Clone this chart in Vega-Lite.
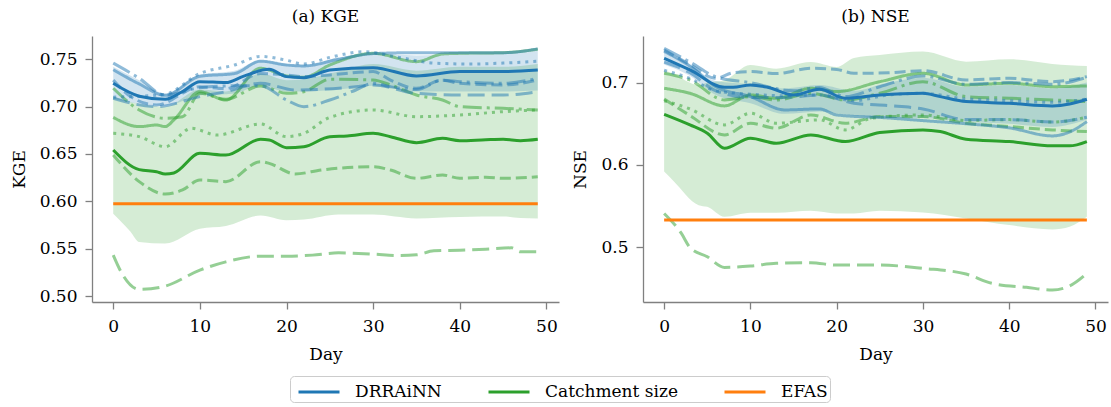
{
"$schema":"https://vega.github.io/schema/vega-lite/v6.json",
"padding":{"left":10,"top":8,"right":2,"bottom":2},
"background":"white",
"datasets":{"d":[
{"p":"a","k":"m","f":"DRRAiNN","d":0,"v":0.7246},{"p":"a","k":"m","f":"DRRAiNN","d":3,"v":0.711},{"p":"a","k":"m","f":"DRRAiNN","d":6,"v":0.7077},{"p":"a","k":"m","f":"DRRAiNN","d":8,"v":0.716},{"p":"a","k":"m","f":"DRRAiNN","d":10,"v":0.7264},{"p":"a","k":"m","f":"DRRAiNN","d":13,"v":0.7254},{"p":"a","k":"m","f":"DRRAiNN","d":15,"v":0.732},{"p":"a","k":"m","f":"DRRAiNN","d":18,"v":0.7394},{"p":"a","k":"m","f":"DRRAiNN","d":20,"v":0.7317},{"p":"a","k":"m","f":"DRRAiNN","d":22,"v":0.7306},{"p":"a","k":"m","f":"DRRAiNN","d":25,"v":0.7387},{"p":"a","k":"m","f":"DRRAiNN","d":30,"v":0.7412},{"p":"a","k":"m","f":"DRRAiNN","d":35,"v":0.7324},{"p":"a","k":"m","f":"DRRAiNN","d":40,"v":0.737},{"p":"a","k":"m","f":"DRRAiNN","d":45,"v":0.737},{"p":"a","k":"m","f":"DRRAiNN","d":49,"v":0.7387},
{"p":"a","k":"m","f":"Catchment size","d":0,"v":0.6542},{"p":"a","k":"m","f":"Catchment size","d":3,"v":0.6335},{"p":"a","k":"m","f":"Catchment size","d":5,"v":0.6313},{"p":"a","k":"m","f":"Catchment size","d":6,"v":0.6289},{"p":"a","k":"m","f":"Catchment size","d":7,"v":0.630},{"p":"a","k":"m","f":"Catchment size","d":10,"v":0.6507},{"p":"a","k":"m","f":"Catchment size","d":13,"v":0.6489},{"p":"a","k":"m","f":"Catchment size","d":17,"v":0.6655},{"p":"a","k":"m","f":"Catchment size","d":18,"v":0.6648},{"p":"a","k":"m","f":"Catchment size","d":20,"v":0.6567},{"p":"a","k":"m","f":"Catchment size","d":22,"v":0.6577},{"p":"a","k":"m","f":"Catchment size","d":25,"v":0.6683},{"p":"a","k":"m","f":"Catchment size","d":27,"v":0.669},{"p":"a","k":"m","f":"Catchment size","d":30,"v":0.6718},{"p":"a","k":"m","f":"Catchment size","d":32,"v":0.6683},{"p":"a","k":"m","f":"Catchment size","d":35,"v":0.662},{"p":"a","k":"m","f":"Catchment size","d":38,"v":0.6665},{"p":"a","k":"m","f":"Catchment size","d":40,"v":0.664},{"p":"a","k":"m","f":"Catchment size","d":43,"v":0.665},{"p":"a","k":"m","f":"Catchment size","d":45,"v":0.6655},{"p":"a","k":"m","f":"Catchment size","d":47,"v":0.664},{"p":"a","k":"m","f":"Catchment size","d":49,"v":0.6655},
{"p":"a","k":"m","f":"EFAS","d":0,"v":0.5975},{"p":"a","k":"m","f":"EFAS","d":49,"v":0.5975},
{"p":"a","k":"b","f":"Catchment size","d":0,"v":0.587,"hi":0.711},{"p":"a","k":"b","f":"Catchment size","d":2,"v":0.568,"hi":0.705},{"p":"a","k":"b","f":"Catchment size","d":3,"v":0.557,"hi":0.703},{"p":"a","k":"b","f":"Catchment size","d":6,"v":0.5554,"hi":0.700},{"p":"a","k":"b","f":"Catchment size","d":10,"v":0.571,"hi":0.718},{"p":"a","k":"b","f":"Catchment size","d":13,"v":0.574,"hi":0.716},{"p":"a","k":"b","f":"Catchment size","d":17,"v":0.585,"hi":0.735},{"p":"a","k":"b","f":"Catchment size","d":20,"v":0.580,"hi":0.728},{"p":"a","k":"b","f":"Catchment size","d":22,"v":0.5807,"hi":0.729},{"p":"a","k":"b","f":"Catchment size","d":26,"v":0.586,"hi":0.737},{"p":"a","k":"b","f":"Catchment size","d":30,"v":0.586,"hi":0.745},{"p":"a","k":"b","f":"Catchment size","d":35,"v":0.582,"hi":0.738},{"p":"a","k":"b","f":"Catchment size","d":40,"v":0.5835,"hi":0.742},{"p":"a","k":"b","f":"Catchment size","d":45,"v":0.584,"hi":0.742},{"p":"a","k":"b","f":"Catchment size","d":47,"v":0.5825,"hi":0.743},{"p":"a","k":"b","f":"Catchment size","d":49,"v":0.582,"hi":0.745},
{"p":"a","k":"b","f":"DRRAiNN","d":0,"v":0.708,"hi":0.742},{"p":"a","k":"b","f":"DRRAiNN","d":3,"v":0.703,"hi":0.728},{"p":"a","k":"b","f":"DRRAiNN","d":6,"v":0.701,"hi":0.714},{"p":"a","k":"b","f":"DRRAiNN","d":10,"v":0.712,"hi":0.734},{"p":"a","k":"b","f":"DRRAiNN","d":14,"v":0.714,"hi":0.738},{"p":"a","k":"b","f":"DRRAiNN","d":17,"v":0.722,"hi":0.749},{"p":"a","k":"b","f":"DRRAiNN","d":20,"v":0.716,"hi":0.745},{"p":"a","k":"b","f":"DRRAiNN","d":22,"v":0.716,"hi":0.744},{"p":"a","k":"b","f":"DRRAiNN","d":26,"v":0.718,"hi":0.752},{"p":"a","k":"b","f":"DRRAiNN","d":30,"v":0.722,"hi":0.756},{"p":"a","k":"b","f":"DRRAiNN","d":35,"v":0.716,"hi":0.754},{"p":"a","k":"b","f":"DRRAiNN","d":40,"v":0.716,"hi":0.755},{"p":"a","k":"b","f":"DRRAiNN","d":45,"v":0.716,"hi":0.756},{"p":"a","k":"b","f":"DRRAiNN","d":49,"v":0.717,"hi":0.759},
{"p":"a","k":"v","f":"Catchment size","s":"solid","d":0,"v":0.6887},{"p":"a","k":"v","f":"Catchment size","s":"solid","d":3,"v":0.6789},{"p":"a","k":"v","f":"Catchment size","s":"solid","d":5,"v":0.6806},{"p":"a","k":"v","f":"Catchment size","s":"solid","d":6,"v":0.6789},{"p":"a","k":"v","f":"Catchment size","s":"solid","d":7,"v":0.686},{"p":"a","k":"v","f":"Catchment size","s":"solid","d":10,"v":0.7158},{"p":"a","k":"v","f":"Catchment size","s":"solid","d":13,"v":0.707},{"p":"a","k":"v","f":"Catchment size","s":"solid","d":17,"v":0.7405},{"p":"a","k":"v","f":"Catchment size","s":"solid","d":20,"v":0.7324},{"p":"a","k":"v","f":"Catchment size","s":"solid","d":22,"v":0.731},{"p":"a","k":"v","f":"Catchment size","s":"solid","d":25,"v":0.744},{"p":"a","k":"v","f":"Catchment size","s":"solid","d":30,"v":0.7563},{"p":"a","k":"v","f":"Catchment size","s":"solid","d":35,"v":0.7475},{"p":"a","k":"v","f":"Catchment size","s":"solid","d":38,"v":0.7556},{"p":"a","k":"v","f":"Catchment size","s":"solid","d":40,"v":0.7563},{"p":"a","k":"v","f":"Catchment size","s":"solid","d":45,"v":0.757},{"p":"a","k":"v","f":"Catchment size","s":"solid","d":49,"v":0.7606},
{"p":"a","k":"v","f":"Catchment size","s":"dashed","d":0,"v":0.649},{"p":"a","k":"v","f":"Catchment size","s":"dashed","d":3,"v":0.6208},{"p":"a","k":"v","f":"Catchment size","s":"dashed","d":6,"v":0.6077},{"p":"a","k":"v","f":"Catchment size","s":"dashed","d":8,"v":0.612},{"p":"a","k":"v","f":"Catchment size","s":"dashed","d":10,"v":0.6225},{"p":"a","k":"v","f":"Catchment size","s":"dashed","d":13,"v":0.6208},{"p":"a","k":"v","f":"Catchment size","s":"dashed","d":17,"v":0.6419},{"p":"a","k":"v","f":"Catchment size","s":"dashed","d":18,"v":0.6401},{"p":"a","k":"v","f":"Catchment size","s":"dashed","d":21,"v":0.6289},{"p":"a","k":"v","f":"Catchment size","s":"dashed","d":24,"v":0.6331},{"p":"a","k":"v","f":"Catchment size","s":"dashed","d":30,"v":0.6366},{"p":"a","k":"v","f":"Catchment size","s":"dashed","d":32,"v":0.6331},{"p":"a","k":"v","f":"Catchment size","s":"dashed","d":35,"v":0.6243},{"p":"a","k":"v","f":"Catchment size","s":"dashed","d":38,"v":0.6278},{"p":"a","k":"v","f":"Catchment size","s":"dashed","d":40,"v":0.6243},{"p":"a","k":"v","f":"Catchment size","s":"dashed","d":43,"v":0.6254},{"p":"a","k":"v","f":"Catchment size","s":"dashed","d":45,"v":0.6243},{"p":"a","k":"v","f":"Catchment size","s":"dashed","d":49,"v":0.626},
{"p":"a","k":"v","f":"Catchment size","s":"dashdot","d":0,"v":0.7194},{"p":"a","k":"v","f":"Catchment size","s":"dashdot","d":3,"v":0.6965},{"p":"a","k":"v","f":"Catchment size","s":"dashdot","d":6,"v":0.6877},{"p":"a","k":"v","f":"Catchment size","s":"dashdot","d":8,"v":0.6894},{"p":"a","k":"v","f":"Catchment size","s":"dashdot","d":10,"v":0.7141},{"p":"a","k":"v","f":"Catchment size","s":"dashdot","d":13,"v":0.7077},{"p":"a","k":"v","f":"Catchment size","s":"dashdot","d":17,"v":0.7218},{"p":"a","k":"v","f":"Catchment size","s":"dashdot","d":20,"v":0.7141},{"p":"a","k":"v","f":"Catchment size","s":"dashdot","d":22,"v":0.7158},{"p":"a","k":"v","f":"Catchment size","s":"dashdot","d":25,"v":0.7289},{"p":"a","k":"v","f":"Catchment size","s":"dashdot","d":30,"v":0.7282},{"p":"a","k":"v","f":"Catchment size","s":"dashdot","d":32,"v":0.7229},{"p":"a","k":"v","f":"Catchment size","s":"dashdot","d":35,"v":0.7123},{"p":"a","k":"v","f":"Catchment size","s":"dashdot","d":38,"v":0.707},{"p":"a","k":"v","f":"Catchment size","s":"dashdot","d":40,"v":0.700},{"p":"a","k":"v","f":"Catchment size","s":"dashdot","d":45,"v":0.6982},{"p":"a","k":"v","f":"Catchment size","s":"dashdot","d":49,"v":0.6965},
{"p":"a","k":"v","f":"Catchment size","s":"dotted","d":0,"v":0.6718},{"p":"a","k":"v","f":"Catchment size","s":"dotted","d":3,"v":0.6683},{"p":"a","k":"v","f":"Catchment size","s":"dotted","d":6,"v":0.6577},{"p":"a","k":"v","f":"Catchment size","s":"dotted","d":9,"v":0.6771},{"p":"a","k":"v","f":"Catchment size","s":"dotted","d":12,"v":0.670},{"p":"a","k":"v","f":"Catchment size","s":"dotted","d":17,"v":0.6817},{"p":"a","k":"v","f":"Catchment size","s":"dotted","d":20,"v":0.6683},{"p":"a","k":"v","f":"Catchment size","s":"dotted","d":22,"v":0.6718},{"p":"a","k":"v","f":"Catchment size","s":"dotted","d":25,"v":0.6887},{"p":"a","k":"v","f":"Catchment size","s":"dotted","d":30,"v":0.6965},{"p":"a","k":"v","f":"Catchment size","s":"dotted","d":35,"v":0.6894},{"p":"a","k":"v","f":"Catchment size","s":"dotted","d":40,"v":0.6912},{"p":"a","k":"v","f":"Catchment size","s":"dotted","d":45,"v":0.6947},{"p":"a","k":"v","f":"Catchment size","s":"dotted","d":49,"v":0.6965},
{"p":"a","k":"v","f":"Catchment size","s":"longdash","d":0,"v":0.5432},{"p":"a","k":"v","f":"Catchment size","s":"longdash","d":1,"v":0.5239},{"p":"a","k":"v","f":"Catchment size","s":"longdash","d":3,"v":0.507},{"p":"a","k":"v","f":"Catchment size","s":"longdash","d":6,"v":0.5105},{"p":"a","k":"v","f":"Catchment size","s":"longdash","d":10,"v":0.5274},{"p":"a","k":"v","f":"Catchment size","s":"longdash","d":13,"v":0.5361},{"p":"a","k":"v","f":"Catchment size","s":"longdash","d":17,"v":0.5421},{"p":"a","k":"v","f":"Catchment size","s":"longdash","d":20,"v":0.5421},{"p":"a","k":"v","f":"Catchment size","s":"longdash","d":23,"v":0.5432},{"p":"a","k":"v","f":"Catchment size","s":"longdash","d":26,"v":0.5456},{"p":"a","k":"v","f":"Catchment size","s":"longdash","d":30,"v":0.5442},{"p":"a","k":"v","f":"Catchment size","s":"longdash","d":33,"v":0.5428},{"p":"a","k":"v","f":"Catchment size","s":"longdash","d":35,"v":0.5435},{"p":"a","k":"v","f":"Catchment size","s":"longdash","d":37,"v":0.5477},{"p":"a","k":"v","f":"Catchment size","s":"longdash","d":40,"v":0.5484},{"p":"a","k":"v","f":"Catchment size","s":"longdash","d":43,"v":0.5495},{"p":"a","k":"v","f":"Catchment size","s":"longdash","d":46,"v":0.5509},{"p":"a","k":"v","f":"Catchment size","s":"longdash","d":47,"v":0.5467},{"p":"a","k":"v","f":"Catchment size","s":"longdash","d":49,"v":0.5467},
{"p":"a","k":"v","f":"DRRAiNN","s":"solid","d":0,"v":0.739},{"p":"a","k":"v","f":"DRRAiNN","s":"solid","d":3,"v":0.724},{"p":"a","k":"v","f":"DRRAiNN","s":"solid","d":6,"v":0.712},{"p":"a","k":"v","f":"DRRAiNN","s":"solid","d":10,"v":0.732},{"p":"a","k":"v","f":"DRRAiNN","s":"solid","d":14,"v":0.735},{"p":"a","k":"v","f":"DRRAiNN","s":"solid","d":17,"v":0.748},{"p":"a","k":"v","f":"DRRAiNN","s":"solid","d":20,"v":0.744},{"p":"a","k":"v","f":"DRRAiNN","s":"solid","d":22,"v":0.743},{"p":"a","k":"v","f":"DRRAiNN","s":"solid","d":26,"v":0.750},{"p":"a","k":"v","f":"DRRAiNN","s":"solid","d":30,"v":0.756},{"p":"a","k":"v","f":"DRRAiNN","s":"solid","d":35,"v":0.757},{"p":"a","k":"v","f":"DRRAiNN","s":"solid","d":40,"v":0.757},{"p":"a","k":"v","f":"DRRAiNN","s":"solid","d":45,"v":0.757},{"p":"a","k":"v","f":"DRRAiNN","s":"solid","d":49,"v":0.761},
{"p":"a","k":"v","f":"DRRAiNN","s":"dotted","d":0,"v":0.710},{"p":"a","k":"v","f":"DRRAiNN","s":"dotted","d":3,"v":0.711},{"p":"a","k":"v","f":"DRRAiNN","s":"dotted","d":6,"v":0.713},{"p":"a","k":"v","f":"DRRAiNN","s":"dotted","d":10,"v":0.735},{"p":"a","k":"v","f":"DRRAiNN","s":"dotted","d":14,"v":0.744},{"p":"a","k":"v","f":"DRRAiNN","s":"dotted","d":17,"v":0.753},{"p":"a","k":"v","f":"DRRAiNN","s":"dotted","d":20,"v":0.749},{"p":"a","k":"v","f":"DRRAiNN","s":"dotted","d":22,"v":0.745},{"p":"a","k":"v","f":"DRRAiNN","s":"dotted","d":25,"v":0.752},{"p":"a","k":"v","f":"DRRAiNN","s":"dotted","d":29,"v":0.758},{"p":"a","k":"v","f":"DRRAiNN","s":"dotted","d":33,"v":0.752},{"p":"a","k":"v","f":"DRRAiNN","s":"dotted","d":37,"v":0.746},{"p":"a","k":"v","f":"DRRAiNN","s":"dotted","d":41,"v":0.745},{"p":"a","k":"v","f":"DRRAiNN","s":"dotted","d":45,"v":0.746},{"p":"a","k":"v","f":"DRRAiNN","s":"dotted","d":49,"v":0.748},
{"p":"a","k":"v","f":"DRRAiNN","s":"dashed","d":0,"v":0.728},{"p":"a","k":"v","f":"DRRAiNN","s":"dashed","d":2,"v":0.7106},{"p":"a","k":"v","f":"DRRAiNN","s":"dashed","d":5,"v":0.7018},{"p":"a","k":"v","f":"DRRAiNN","s":"dashed","d":10,"v":0.721},{"p":"a","k":"v","f":"DRRAiNN","s":"dashed","d":13,"v":0.719},{"p":"a","k":"v","f":"DRRAiNN","s":"dashed","d":17,"v":0.735},{"p":"a","k":"v","f":"DRRAiNN","s":"dashed","d":20,"v":0.7335},{"p":"a","k":"v","f":"DRRAiNN","s":"dashed","d":22,"v":0.7317},{"p":"a","k":"v","f":"DRRAiNN","s":"dashed","d":25,"v":0.7335},{"p":"a","k":"v","f":"DRRAiNN","s":"dashed","d":30,"v":0.737},{"p":"a","k":"v","f":"DRRAiNN","s":"dashed","d":32,"v":0.728},{"p":"a","k":"v","f":"DRRAiNN","s":"dashed","d":35,"v":0.7194},{"p":"a","k":"v","f":"DRRAiNN","s":"dashed","d":38,"v":0.728},{"p":"a","k":"v","f":"DRRAiNN","s":"dashed","d":40,"v":0.7246},{"p":"a","k":"v","f":"DRRAiNN","s":"dashed","d":45,"v":0.7229},{"p":"a","k":"v","f":"DRRAiNN","s":"dashed","d":49,"v":0.7282},
{"p":"a","k":"v","f":"DRRAiNN","s":"dashdot","d":0,"v":0.746},{"p":"a","k":"v","f":"DRRAiNN","s":"dashdot","d":3,"v":0.730},{"p":"a","k":"v","f":"DRRAiNN","s":"dashdot","d":6,"v":0.712},{"p":"a","k":"v","f":"DRRAiNN","s":"dashdot","d":10,"v":0.720},{"p":"a","k":"v","f":"DRRAiNN","s":"dashdot","d":14,"v":0.722},{"p":"a","k":"v","f":"DRRAiNN","s":"dashdot","d":17,"v":0.722},{"p":"a","k":"v","f":"DRRAiNN","s":"dashdot","d":20,"v":0.707},{"p":"a","k":"v","f":"DRRAiNN","s":"dashdot","d":22,"v":0.700},{"p":"a","k":"v","f":"DRRAiNN","s":"dashdot","d":25,"v":0.707},{"p":"a","k":"v","f":"DRRAiNN","s":"dashdot","d":28,"v":0.7176},{"p":"a","k":"v","f":"DRRAiNN","s":"dashdot","d":30,"v":0.7246},{"p":"a","k":"v","f":"DRRAiNN","s":"dashdot","d":32,"v":0.721},{"p":"a","k":"v","f":"DRRAiNN","s":"dashdot","d":35,"v":0.718},{"p":"a","k":"v","f":"DRRAiNN","s":"dashdot","d":38,"v":0.728},{"p":"a","k":"v","f":"DRRAiNN","s":"dashdot","d":40,"v":0.7264},{"p":"a","k":"v","f":"DRRAiNN","s":"dashdot","d":45,"v":0.7246},{"p":"a","k":"v","f":"DRRAiNN","s":"dashdot","d":49,"v":0.730},
{"p":"a","k":"v","f":"DRRAiNN","s":"longdash","d":0,"v":0.7088},{"p":"a","k":"v","f":"DRRAiNN","s":"longdash","d":5,"v":0.700},{"p":"a","k":"v","f":"DRRAiNN","s":"longdash","d":10,"v":0.7106},{"p":"a","k":"v","f":"DRRAiNN","s":"longdash","d":13,"v":0.7158},{"p":"a","k":"v","f":"DRRAiNN","s":"longdash","d":17,"v":0.7246},{"p":"a","k":"v","f":"DRRAiNN","s":"longdash","d":21,"v":0.7176},{"p":"a","k":"v","f":"DRRAiNN","s":"longdash","d":28,"v":0.721},{"p":"a","k":"v","f":"DRRAiNN","s":"longdash","d":30,"v":0.7229},{"p":"a","k":"v","f":"DRRAiNN","s":"longdash","d":35,"v":0.714},{"p":"a","k":"v","f":"DRRAiNN","s":"longdash","d":40,"v":0.7123},{"p":"a","k":"v","f":"DRRAiNN","s":"longdash","d":45,"v":0.7123},{"p":"a","k":"v","f":"DRRAiNN","s":"longdash","d":49,"v":0.7158},

{"p":"b","k":"m","f":"DRRAiNN","d":0,"v":0.7296},{"p":"b","k":"m","f":"DRRAiNN","d":3,"v":0.7154},{"p":"b","k":"m","f":"DRRAiNN","d":7,"v":0.6943},{"p":"b","k":"m","f":"DRRAiNN","d":8,"v":0.6943},{"p":"b","k":"m","f":"DRRAiNN","d":10,"v":0.6972},{"p":"b","k":"m","f":"DRRAiNN","d":12,"v":0.6943},{"p":"b","k":"m","f":"DRRAiNN","d":15,"v":0.685},{"p":"b","k":"m","f":"DRRAiNN","d":18,"v":0.6919},{"p":"b","k":"m","f":"DRRAiNN","d":21,"v":0.681},{"p":"b","k":"m","f":"DRRAiNN","d":25,"v":0.685},{"p":"b","k":"m","f":"DRRAiNN","d":30,"v":0.687},{"p":"b","k":"m","f":"DRRAiNN","d":32,"v":0.683},{"p":"b","k":"m","f":"DRRAiNN","d":35,"v":0.6769},{"p":"b","k":"m","f":"DRRAiNN","d":40,"v":0.6749},{"p":"b","k":"m","f":"DRRAiNN","d":45,"v":0.6717},{"p":"b","k":"m","f":"DRRAiNN","d":47,"v":0.674},{"p":"b","k":"m","f":"DRRAiNN","d":49,"v":0.6798},
{"p":"b","k":"m","f":"Catchment size","d":0,"v":0.6615},{"p":"b","k":"m","f":"Catchment size","d":3,"v":0.6486},{"p":"b","k":"m","f":"Catchment size","d":5,"v":0.6385},{"p":"b","k":"m","f":"Catchment size","d":7,"v":0.6202},{"p":"b","k":"m","f":"Catchment size","d":10,"v":0.6324},{"p":"b","k":"m","f":"Catchment size","d":13,"v":0.6263},{"p":"b","k":"m","f":"Catchment size","d":17,"v":0.6364},{"p":"b","k":"m","f":"Catchment size","d":21,"v":0.6283},{"p":"b","k":"m","f":"Catchment size","d":25,"v":0.6393},{"p":"b","k":"m","f":"Catchment size","d":30,"v":0.6425},{"p":"b","k":"m","f":"Catchment size","d":32,"v":0.6405},{"p":"b","k":"m","f":"Catchment size","d":35,"v":0.6312},{"p":"b","k":"m","f":"Catchment size","d":40,"v":0.6283},{"p":"b","k":"m","f":"Catchment size","d":45,"v":0.6231},{"p":"b","k":"m","f":"Catchment size","d":47,"v":0.6231},{"p":"b","k":"m","f":"Catchment size","d":49,"v":0.6283},
{"p":"b","k":"m","f":"EFAS","d":0,"v":0.5328},{"p":"b","k":"m","f":"EFAS","d":49,"v":0.5328},
{"p":"b","k":"b","f":"Catchment size","d":0,"v":0.592,"hi":0.7154},{"p":"b","k":"b","f":"Catchment size","d":1,"v":0.5814,"hi":0.711},{"p":"b","k":"b","f":"Catchment size","d":4,"v":0.551,"hi":0.697},{"p":"b","k":"b","f":"Catchment size","d":5,"v":0.549,"hi":0.700},{"p":"b","k":"b","f":"Catchment size","d":7,"v":0.5368,"hi":0.703},{"p":"b","k":"b","f":"Catchment size","d":10,"v":0.5417,"hi":0.7215},{"p":"b","k":"b","f":"Catchment size","d":13,"v":0.5417,"hi":0.717},{"p":"b","k":"b","f":"Catchment size","d":17,"v":0.5441,"hi":0.725},{"p":"b","k":"b","f":"Catchment size","d":20,"v":0.5409,"hi":0.719},{"p":"b","k":"b","f":"Catchment size","d":22,"v":0.5409,"hi":0.730},{"p":"b","k":"b","f":"Catchment size","d":25,"v":0.5441,"hi":0.7336},{"p":"b","k":"b","f":"Catchment size","d":30,"v":0.5421,"hi":0.7377},{"p":"b","k":"b","f":"Catchment size","d":35,"v":0.5348,"hi":0.7255},{"p":"b","k":"b","f":"Catchment size","d":40,"v":0.5267,"hi":0.7283},{"p":"b","k":"b","f":"Catchment size","d":45,"v":0.5215,"hi":0.7227},{"p":"b","k":"b","f":"Catchment size","d":47,"v":0.5247,"hi":0.721},{"p":"b","k":"b","f":"Catchment size","d":49,"v":0.5368,"hi":0.7202},
{"p":"b","k":"b","f":"DRRAiNN","d":0,"v":0.722,"hi":0.738},{"p":"b","k":"b","f":"DRRAiNN","d":3,"v":0.708,"hi":0.722},{"p":"b","k":"b","f":"DRRAiNN","d":6,"v":0.685,"hi":0.702},{"p":"b","k":"b","f":"DRRAiNN","d":10,"v":0.675,"hi":0.698},{"p":"b","k":"b","f":"DRRAiNN","d":14,"v":0.662,"hi":0.693},{"p":"b","k":"b","f":"DRRAiNN","d":18,"v":0.665,"hi":0.697},{"p":"b","k":"b","f":"DRRAiNN","d":22,"v":0.660,"hi":0.690},{"p":"b","k":"b","f":"DRRAiNN","d":26,"v":0.657,"hi":0.700},{"p":"b","k":"b","f":"DRRAiNN","d":30,"v":0.657,"hi":0.706},{"p":"b","k":"b","f":"DRRAiNN","d":35,"v":0.652,"hi":0.695},{"p":"b","k":"b","f":"DRRAiNN","d":40,"v":0.650,"hi":0.697},{"p":"b","k":"b","f":"DRRAiNN","d":45,"v":0.646,"hi":0.693},{"p":"b","k":"b","f":"DRRAiNN","d":49,"v":0.655,"hi":0.700},
{"p":"b","k":"v","f":"Catchment size","s":"solid","d":0,"v":0.6931},{"p":"b","k":"v","f":"Catchment size","s":"solid","d":3,"v":0.687},{"p":"b","k":"v","f":"Catchment size","s":"solid","d":7,"v":0.6717},{"p":"b","k":"v","f":"Catchment size","s":"solid","d":10,"v":0.685},{"p":"b","k":"v","f":"Catchment size","s":"solid","d":13,"v":0.681},{"p":"b","k":"v","f":"Catchment size","s":"solid","d":17,"v":0.6931},{"p":"b","k":"v","f":"Catchment size","s":"solid","d":20,"v":0.6891},{"p":"b","k":"v","f":"Catchment size","s":"solid","d":25,"v":0.7012},{"p":"b","k":"v","f":"Catchment size","s":"solid","d":30,"v":0.7113},{"p":"b","k":"v","f":"Catchment size","s":"solid","d":35,"v":0.6972},{"p":"b","k":"v","f":"Catchment size","s":"solid","d":40,"v":0.6992},{"p":"b","k":"v","f":"Catchment size","s":"solid","d":45,"v":0.6951},{"p":"b","k":"v","f":"Catchment size","s":"solid","d":49,"v":0.696},
{"p":"b","k":"v","f":"Catchment size","s":"dashdot","d":0,"v":0.7113},{"p":"b","k":"v","f":"Catchment size","s":"dashdot","d":3,"v":0.7032},{"p":"b","k":"v","f":"Catchment size","s":"dashdot","d":7,"v":0.6789},{"p":"b","k":"v","f":"Catchment size","s":"dashdot","d":10,"v":0.683},{"p":"b","k":"v","f":"Catchment size","s":"dashdot","d":13,"v":0.6789},{"p":"b","k":"v","f":"Catchment size","s":"dashdot","d":17,"v":0.687},{"p":"b","k":"v","f":"Catchment size","s":"dashdot","d":21,"v":0.6789},{"p":"b","k":"v","f":"Catchment size","s":"dashdot","d":25,"v":0.687},{"p":"b","k":"v","f":"Catchment size","s":"dashdot","d":30,"v":0.7012},{"p":"b","k":"v","f":"Catchment size","s":"dashdot","d":35,"v":0.683},{"p":"b","k":"v","f":"Catchment size","s":"dashdot","d":40,"v":0.681},{"p":"b","k":"v","f":"Catchment size","s":"dashdot","d":45,"v":0.6789},{"p":"b","k":"v","f":"Catchment size","s":"dashdot","d":49,"v":0.6769},
{"p":"b","k":"v","f":"Catchment size","s":"dashed","d":0,"v":0.680},{"p":"b","k":"v","f":"Catchment size","s":"dashed","d":3,"v":0.660},{"p":"b","k":"v","f":"Catchment size","s":"dashed","d":7,"v":0.6364},{"p":"b","k":"v","f":"Catchment size","s":"dashed","d":10,"v":0.6506},{"p":"b","k":"v","f":"Catchment size","s":"dashed","d":13,"v":0.6445},{"p":"b","k":"v","f":"Catchment size","s":"dashed","d":17,"v":0.6607},{"p":"b","k":"v","f":"Catchment size","s":"dashed","d":21,"v":0.6506},{"p":"b","k":"v","f":"Catchment size","s":"dashed","d":25,"v":0.6587},{"p":"b","k":"v","f":"Catchment size","s":"dashed","d":30,"v":0.6587},{"p":"b","k":"v","f":"Catchment size","s":"dashed","d":35,"v":0.6506},{"p":"b","k":"v","f":"Catchment size","s":"dashed","d":40,"v":0.6466},{"p":"b","k":"v","f":"Catchment size","s":"dashed","d":45,"v":0.6425},{"p":"b","k":"v","f":"Catchment size","s":"dashed","d":49,"v":0.6405},
{"p":"b","k":"v","f":"Catchment size","s":"dotted","d":0,"v":0.678},{"p":"b","k":"v","f":"Catchment size","s":"dotted","d":3,"v":0.668},{"p":"b","k":"v","f":"Catchment size","s":"dotted","d":7,"v":0.6486},{"p":"b","k":"v","f":"Catchment size","s":"dotted","d":10,"v":0.6628},{"p":"b","k":"v","f":"Catchment size","s":"dotted","d":13,"v":0.6506},{"p":"b","k":"v","f":"Catchment size","s":"dotted","d":18,"v":0.6547},{"p":"b","k":"v","f":"Catchment size","s":"dotted","d":21,"v":0.6425},{"p":"b","k":"v","f":"Catchment size","s":"dotted","d":24,"v":0.6567},{"p":"b","k":"v","f":"Catchment size","s":"dotted","d":30,"v":0.6607},{"p":"b","k":"v","f":"Catchment size","s":"dotted","d":35,"v":0.654},{"p":"b","k":"v","f":"Catchment size","s":"dotted","d":40,"v":0.655},{"p":"b","k":"v","f":"Catchment size","s":"dotted","d":45,"v":0.652},{"p":"b","k":"v","f":"Catchment size","s":"dotted","d":49,"v":0.658},
{"p":"b","k":"v","f":"Catchment size","s":"longdash","d":0,"v":0.5409},{"p":"b","k":"v","f":"Catchment size","s":"longdash","d":2,"v":0.5166},{"p":"b","k":"v","f":"Catchment size","s":"longdash","d":3,"v":0.4994},{"p":"b","k":"v","f":"Catchment size","s":"longdash","d":5,"v":0.4883},{"p":"b","k":"v","f":"Catchment size","s":"longdash","d":7,"v":0.4753},{"p":"b","k":"v","f":"Catchment size","s":"longdash","d":10,"v":0.4769},{"p":"b","k":"v","f":"Catchment size","s":"longdash","d":13,"v":0.4802},{"p":"b","k":"v","f":"Catchment size","s":"longdash","d":17,"v":0.481},{"p":"b","k":"v","f":"Catchment size","s":"longdash","d":20,"v":0.4781},{"p":"b","k":"v","f":"Catchment size","s":"longdash","d":25,"v":0.4781},{"p":"b","k":"v","f":"Catchment size","s":"longdash","d":30,"v":0.4741},{"p":"b","k":"v","f":"Catchment size","s":"longdash","d":35,"v":0.4672},{"p":"b","k":"v","f":"Catchment size","s":"longdash","d":38,"v":0.4559},{"p":"b","k":"v","f":"Catchment size","s":"longdash","d":42,"v":0.451},{"p":"b","k":"v","f":"Catchment size","s":"longdash","d":45,"v":0.4478},{"p":"b","k":"v","f":"Catchment size","s":"longdash","d":47,"v":0.4528},{"p":"b","k":"v","f":"Catchment size","s":"longdash","d":49,"v":0.468},
{"p":"b","k":"v","f":"DRRAiNN","s":"dashed","d":0,"v":0.7397},{"p":"b","k":"v","f":"DRRAiNN","s":"dashed","d":3,"v":0.722},{"p":"b","k":"v","f":"DRRAiNN","s":"dashed","d":6,"v":0.7053},{"p":"b","k":"v","f":"DRRAiNN","s":"dashed","d":8,"v":0.712},{"p":"b","k":"v","f":"DRRAiNN","s":"dashed","d":10,"v":0.7134},{"p":"b","k":"v","f":"DRRAiNN","s":"dashed","d":13,"v":0.711},{"p":"b","k":"v","f":"DRRAiNN","s":"dashed","d":17,"v":0.7174},{"p":"b","k":"v","f":"DRRAiNN","s":"dashed","d":20,"v":0.716},{"p":"b","k":"v","f":"DRRAiNN","s":"dashed","d":22,"v":0.7113},{"p":"b","k":"v","f":"DRRAiNN","s":"dashed","d":26,"v":0.712},{"p":"b","k":"v","f":"DRRAiNN","s":"dashed","d":30,"v":0.7146},{"p":"b","k":"v","f":"DRRAiNN","s":"dashed","d":35,"v":0.7032},{"p":"b","k":"v","f":"DRRAiNN","s":"dashed","d":40,"v":0.7053},{"p":"b","k":"v","f":"DRRAiNN","s":"dashed","d":45,"v":0.7012},{"p":"b","k":"v","f":"DRRAiNN","s":"dashed","d":49,"v":0.7073},
{"p":"b","k":"v","f":"DRRAiNN","s":"dashdot","d":0,"v":0.7417},{"p":"b","k":"v","f":"DRRAiNN","s":"dashdot","d":3,"v":0.725},{"p":"b","k":"v","f":"DRRAiNN","s":"dashdot","d":6,"v":0.707},{"p":"b","k":"v","f":"DRRAiNN","s":"dashdot","d":10,"v":0.700},{"p":"b","k":"v","f":"DRRAiNN","s":"dashdot","d":15,"v":0.690},{"p":"b","k":"v","f":"DRRAiNN","s":"dashdot","d":18,"v":0.694},{"p":"b","k":"v","f":"DRRAiNN","s":"dashdot","d":21,"v":0.683},{"p":"b","k":"v","f":"DRRAiNN","s":"dashdot","d":25,"v":0.695},{"p":"b","k":"v","f":"DRRAiNN","s":"dashdot","d":30,"v":0.708},{"p":"b","k":"v","f":"DRRAiNN","s":"dashdot","d":35,"v":0.698},{"p":"b","k":"v","f":"DRRAiNN","s":"dashdot","d":40,"v":0.700},{"p":"b","k":"v","f":"DRRAiNN","s":"dashdot","d":45,"v":0.698},{"p":"b","k":"v","f":"DRRAiNN","s":"dashdot","d":49,"v":0.7065},
{"p":"b","k":"v","f":"DRRAiNN","s":"solid","d":0,"v":0.738},{"p":"b","k":"v","f":"DRRAiNN","s":"solid","d":3,"v":0.72},{"p":"b","k":"v","f":"DRRAiNN","s":"solid","d":6,"v":0.695},{"p":"b","k":"v","f":"DRRAiNN","s":"solid","d":10,"v":0.683},{"p":"b","k":"v","f":"DRRAiNN","s":"solid","d":14,"v":0.6668},{"p":"b","k":"v","f":"DRRAiNN","s":"solid","d":18,"v":0.668},{"p":"b","k":"v","f":"DRRAiNN","s":"solid","d":20,"v":0.6607},{"p":"b","k":"v","f":"DRRAiNN","s":"solid","d":26,"v":0.657},{"p":"b","k":"v","f":"DRRAiNN","s":"solid","d":30,"v":0.6538},{"p":"b","k":"v","f":"DRRAiNN","s":"solid","d":35,"v":0.650},{"p":"b","k":"v","f":"DRRAiNN","s":"solid","d":40,"v":0.645},{"p":"b","k":"v","f":"DRRAiNN","s":"solid","d":45,"v":0.6352},{"p":"b","k":"v","f":"DRRAiNN","s":"solid","d":47,"v":0.640},{"p":"b","k":"v","f":"DRRAiNN","s":"solid","d":49,"v":0.6526},
{"p":"b","k":"v","f":"DRRAiNN","s":"dotted","d":0,"v":0.715},{"p":"b","k":"v","f":"DRRAiNN","s":"dotted","d":3,"v":0.705},{"p":"b","k":"v","f":"DRRAiNN","s":"dotted","d":6,"v":0.690},{"p":"b","k":"v","f":"DRRAiNN","s":"dotted","d":10,"v":0.686},{"p":"b","k":"v","f":"DRRAiNN","s":"dotted","d":14,"v":0.684},{"p":"b","k":"v","f":"DRRAiNN","s":"dotted","d":18,"v":0.685},{"p":"b","k":"v","f":"DRRAiNN","s":"dotted","d":22,"v":0.678},{"p":"b","k":"v","f":"DRRAiNN","s":"dotted","d":26,"v":0.685},{"p":"b","k":"v","f":"DRRAiNN","s":"dotted","d":30,"v":0.687},{"p":"b","k":"v","f":"DRRAiNN","s":"dotted","d":35,"v":0.680},{"p":"b","k":"v","f":"DRRAiNN","s":"dotted","d":40,"v":0.678},{"p":"b","k":"v","f":"DRRAiNN","s":"dotted","d":45,"v":0.676},{"p":"b","k":"v","f":"DRRAiNN","s":"dotted","d":49,"v":0.680},
{"p":"b","k":"v","f":"DRRAiNN","s":"longdash","d":0,"v":0.725},{"p":"b","k":"v","f":"DRRAiNN","s":"longdash","d":3,"v":0.712},{"p":"b","k":"v","f":"DRRAiNN","s":"longdash","d":6,"v":0.690},{"p":"b","k":"v","f":"DRRAiNN","s":"longdash","d":10,"v":0.682},{"p":"b","k":"v","f":"DRRAiNN","s":"longdash","d":14,"v":0.682},{"p":"b","k":"v","f":"DRRAiNN","s":"longdash","d":18,"v":0.685},{"p":"b","k":"v","f":"DRRAiNN","s":"longdash","d":22,"v":0.675},{"p":"b","k":"v","f":"DRRAiNN","s":"longdash","d":26,"v":0.672},{"p":"b","k":"v","f":"DRRAiNN","s":"longdash","d":30,"v":0.668},{"p":"b","k":"v","f":"DRRAiNN","s":"longdash","d":35,"v":0.655},{"p":"b","k":"v","f":"DRRAiNN","s":"longdash","d":40,"v":0.655},{"p":"b","k":"v","f":"DRRAiNN","s":"longdash","d":45,"v":0.652},{"p":"b","k":"v","f":"DRRAiNN","s":"longdash","d":49,"v":0.658}
]},
"data":{"name":"d"},
"hconcat":[
{
"width":467,"height":266,
"title":{"text":"(a) KGE"},
"transform":[{"filter":"datum.p==='a'"}],
"encoding":{
"x":{"field":"d","type":"quantitative","scale":{"domain":[-2.45,51.45],"nice":false,"zero":false},"axis":{"values":[0,10,20,30,40,50],"title":"Day"}},
"y":{"field":"v","type":"quantitative","scale":{"domain":[0.4937,0.7746],"nice":false,"zero":false},"axis":{"values":[0.5,0.55,0.6,0.65,0.7,0.75],"format":".2f","title":"KGE"}}
},
"layer":[
{"transform":[{"filter":"datum.k==='b' && datum.f==='Catchment size'"}],"mark":{"type":"area","color":"#2ca02c","opacity":0.2,"interpolate":"monotone"},"encoding":{"y2":{"field":"hi"}}},
{"transform":[{"filter":"datum.k==='b' && datum.f==='DRRAiNN'"}],"mark":{"type":"area","color":"#1f77b4","opacity":0.2,"interpolate":"monotone"},"encoding":{"y2":{"field":"hi"}}},
{"transform":[{"filter":"datum.k==='v' && datum.f==='Catchment size'"}],"mark":{"type":"line","color":"#2ca02c","opacity":0.5,"strokeWidth":3,"interpolate":"monotone"},"encoding":{"strokeDash":{"field":"s","type":"nominal","scale":{"domain":["solid","dashed","dashdot","dotted","longdash"],"range":[[1,0],[11,5],[19,5,3,5],[3,5],[17,7]]},"legend":null}}},
{"transform":[{"filter":"datum.k==='v' && datum.f==='DRRAiNN'"}],"mark":{"type":"line","color":"#1f77b4","opacity":0.5,"strokeWidth":3,"interpolate":"monotone"},"encoding":{"strokeDash":{"field":"s","type":"nominal","scale":{"domain":["solid","dashed","dashdot","dotted","longdash"],"range":[[1,0],[11,5],[19,5,3,5],[3,5],[17,7]]},"legend":null}}},
{"transform":[{"filter":"datum.k==='m'"}],"mark":{"type":"line","strokeWidth":3,"interpolate":"monotone"},"encoding":{"color":{"field":"f","type":"nominal","sort":["DRRAiNN","Catchment size","EFAS"],"scale":{"domain":["DRRAiNN","Catchment size","EFAS"],"range":["#1f77b4","#2ca02c","#ff7f0e"]},"legend":{"orient":"none","legendX":198,"legendY":340,"direction":"horizontal","title":null,"labelFont":"DejaVu Serif","labelFontSize":17,"labelFontWeight":"normal"}}}}
]
},
{
"width":465,"height":266,
"title":{"text":"(b) NSE"},
"transform":[{"filter":"datum.p==='b'"}],
"encoding":{
"x":{"field":"d","type":"quantitative","scale":{"domain":[-2.45,51.45],"nice":false,"zero":false},"axis":{"values":[0,10,20,30,40,50],"title":"Day"}},
"y":{"field":"v","type":"quantitative","scale":{"domain":[0.4332,0.7567],"nice":false,"zero":false},"axis":{"values":[0.5,0.6,0.7],"format":".1f","title":"NSE"}}
},
"layer":[
{"transform":[{"filter":"datum.k==='b' && datum.f==='Catchment size'"}],"mark":{"type":"area","color":"#2ca02c","opacity":0.2,"interpolate":"monotone"},"encoding":{"y2":{"field":"hi"}}},
{"transform":[{"filter":"datum.k==='b' && datum.f==='DRRAiNN'"}],"mark":{"type":"area","color":"#1f77b4","opacity":0.2,"interpolate":"monotone"},"encoding":{"y2":{"field":"hi"}}},
{"transform":[{"filter":"datum.k==='v' && datum.f==='Catchment size'"}],"mark":{"type":"line","color":"#2ca02c","opacity":0.5,"strokeWidth":3,"interpolate":"monotone"},"encoding":{"strokeDash":{"field":"s","type":"nominal","scale":{"domain":["solid","dashed","dashdot","dotted","longdash"],"range":[[1,0],[11,5],[19,5,3,5],[3,5],[17,7]]},"legend":null}}},
{"transform":[{"filter":"datum.k==='v' && datum.f==='DRRAiNN'"}],"mark":{"type":"line","color":"#1f77b4","opacity":0.5,"strokeWidth":3,"interpolate":"monotone"},"encoding":{"strokeDash":{"field":"s","type":"nominal","scale":{"domain":["solid","dashed","dashdot","dotted","longdash"],"range":[[1,0],[11,5],[19,5,3,5],[3,5],[17,7]]},"legend":null}}},
{"transform":[{"filter":"datum.k==='m'"}],"mark":{"type":"line","strokeWidth":3,"interpolate":"monotone"},"encoding":{"color":{"field":"f","type":"nominal","sort":["DRRAiNN","Catchment size","EFAS"],"scale":{"domain":["DRRAiNN","Catchment size","EFAS"],"range":["#1f77b4","#2ca02c","#ff7f0e"]},"legend":{"orient":"none","legendX":198,"legendY":340,"direction":"horizontal","title":null,"labelFont":"DejaVu Serif","labelFontSize":17,"labelFontWeight":"normal"}}}}
]
}
],
"spacing":84,
"bounds":"flush",
"config":{
"view":{"stroke":null},
"font":"DejaVu Serif",
"axis":{"labelFont":"DejaVu Serif","titleFont":"DejaVu Serif","labelFontSize":17,"titleFontSize":17,"titleFontWeight":"normal","labelColor":"#000000","titleColor":"#000000","domainColor":"#808080","tickColor":"#808080","domainWidth":1.3,"tickWidth":1.3,"tickSize":7,"grid":false},
"axisX":{"labelPadding":9,"titlePadding":12},
"axisY":{"labelPadding":8,"titlePadding":11},
"title":{"font":"DejaVu Serif","fontSize":17,"fontWeight":"normal","color":"#000000","offset":10},
"legend":{"labelFont":"DejaVu Serif","labelFontSize":17,"labelFontWeight":"normal","labelColor":"#000000","symbolType":"M-0.6,0H2.68","symbolStrokeWidth":3,"symbolSize":625,"strokeColor":"#cccccc","cornerRadius":4,"padding":2,"columnPadding":40,"labelOffset":35}
}
}
